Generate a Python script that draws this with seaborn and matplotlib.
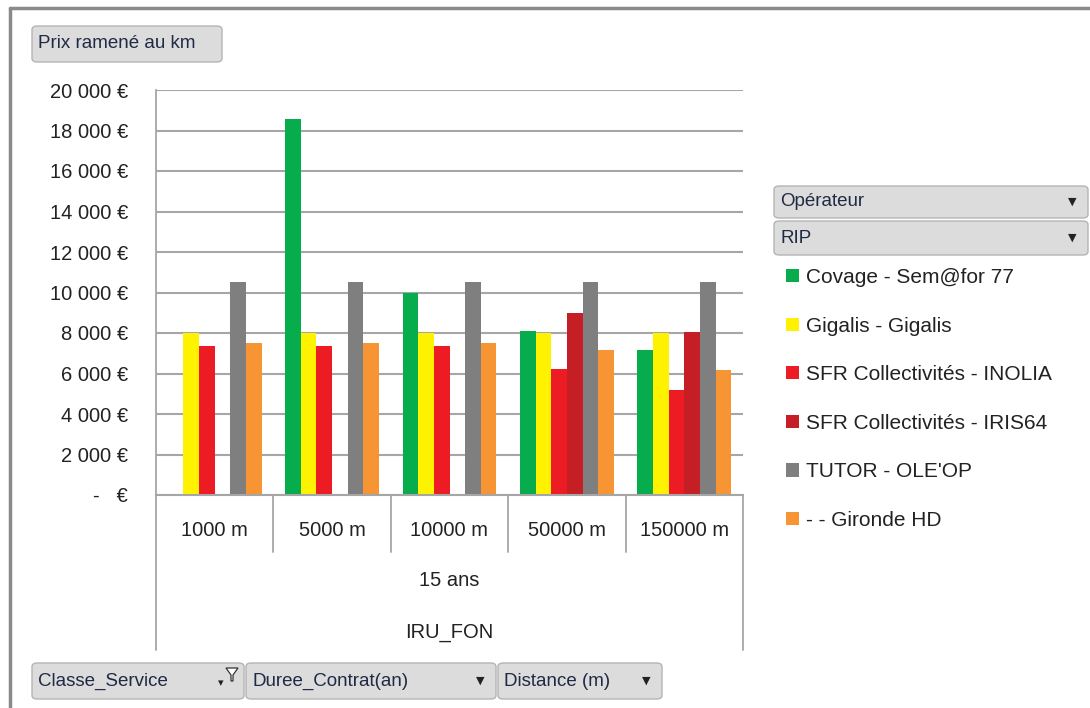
import pandas as pd
import numpy as np
import matplotlib
matplotlib.use('Agg')
import matplotlib.pyplot as plt
import seaborn as sns
from matplotlib.patches import FancyBboxPatch, Polygon
from matplotlib.lines import Line2D
from matplotlib.ticker import FuncFormatter

# données (prix ramené au km, en €)
distances = ['1000 m', '5000 m', '10000 m', '50000 m', '150000 m']
operateurs = ['Covage - Sem@for 77', 'Gigalis - Gigalis', 'SFR Collectivités - INOLIA',
              'SFR Collectivités - IRIS64', "TUTOR - OLE'OP", '- - Gironde HD']
covage = [None, 18570, 9980, 8100, 7160]
gigalis = [8000, 8000, 8000, 8000, 8000]
inolia = [7360, 7360, 7360, 6220, 5170]
iris64 = [None, None, None, 8970, 8030]
tutor = [10500, 10500, 10500, 10500, 10500]
gironde = [7490, 7490, 7490, 7160, 6160]
couleurs = ['#07AC4C', '#FFF200', '#ED1C24', '#C51F25', '#7F7F7F', '#F79433']

rows = []
for op, vals in zip(operateurs, [covage, gigalis, inolia, iris64, tutor, gironde]):
    for d, v in zip(distances, vals):
        if v is not None:
            rows.append({'Distance': d, 'Operateur': op, 'Prix': v})
df = pd.DataFrame(rows)

sns.set_style('white')
plt.rcParams['font.family'] = ['Liberation Sans', 'DejaVu Sans']

fig = plt.figure(figsize=(10.9, 7.08), dpi=100)
W, H = 1090, 708
ax = fig.add_axes([156 / W, 1 - 495 / H, (743 - 156) / W, (495 - 90) / H])

sns.barplot(data=df, x='Distance', y='Prix', hue='Operateur',
            order=distances, hue_order=operateurs, palette=couleurs,
            width=0.8, linewidth=0, saturation=1, errorbar=None, ax=ax)

handles, labels = ax.get_legend_handles_labels()
ax.get_legend().remove()

ax.set_xlim(-0.5, 4.5)
ax.set_ylim(0, 20000)
ax.set_yticks(np.arange(0, 20001, 2000))
ax.yaxis.set_major_formatter(FuncFormatter(
    lambda v, p: '-   €' if v == 0 else '{:,.0f} €'.format(v).replace(',', ' ')))
ax.grid(axis='y', color='#A6A6A6', linewidth=1.5)
ax.set_axisbelow(True)
for s in ['top', 'right']:
    ax.spines[s].set_visible(False)
ax.spines['left'].set_color('#A6A6A6')
ax.spines['left'].set_linewidth(1.3)
ax.spines['bottom'].set_color('#A6A6A6')
ax.spines['bottom'].set_linewidth(1.5)
ax.tick_params(axis='y', length=8, width=1.2, color='#A6A6A6', direction='out',
               labelsize=14.5, colors='#A6A6A6', labelcolor='#222222', pad=12)
ax.set_xticks([])
ax.set_xlabel('')
ax.set_ylabel('')

# axe des catégories à plusieurs niveaux
tr = ax.get_xaxis_transform()
def fy(py):
    return (495 - py) / 405
for x in [0.5, 1.5, 2.5, 3.5]:
    ax.add_line(Line2D([x, x], [0, fy(552)], transform=tr, color='#A6A6A6',
                       linewidth=1.3, clip_on=False))
for x in [-0.5, 4.5]:
    ax.add_line(Line2D([x, x], [0, fy(650)], transform=tr, color='#A6A6A6',
                       linewidth=1.3, clip_on=False))
for i, d in enumerate(distances):
    ax.text(i, fy(530), d, transform=tr, ha='center', va='center', fontsize=14.5, color='#222222')
ax.text(2, fy(580), '15 ans', transform=tr, ha='center', va='center', fontsize=14.5, color='#222222')
ax.text(2, fy(632), 'IRU_FON', transform=tr, ha='center', va='center', fontsize=14.5, color='#222222')

# légende
fig.legend(handles, labels, loc='upper left', bbox_to_anchor=(786 / W, 1 - 268 / H),
           frameon=False, fontsize=15, handlelength=0.6, handleheight=0.6,
           handletextpad=0.35, labelspacing=1.42, borderpad=0, borderaxespad=0,
           labelcolor='#222222')

# boutons du tableau croisé dynamique
def bouton(x0, y0, x1, y1, texte, fleche=True):
    p = FancyBboxPatch((x0 / W, 1 - y1 / H), (x1 - x0) / W, (y1 - y0) / H,
                       boxstyle='round,pad=0,rounding_size=0.005',
                       transform=fig.transFigure, facecolor='#DCDCDC',
                       edgecolor='#B4B4B4', linewidth=1)
    fig.add_artist(p)
    fig.text((x0 + 6) / W, 1 - (y0 + y1) / 2 / H, texte, ha='left', va='center',
             fontsize=13.5, color='#1F2A44')
    if fleche:
        fig.text((x1 - 16) / W, 1 - (y0 + y1) / 2 / H, '▼', ha='center', va='center',
                 fontsize=8, color='#222222', family='DejaVu Sans')

bouton(32, 26, 222, 62, 'Prix ramené au km', fleche=False)
bouton(774, 186, 1088, 218, 'Opérateur')
bouton(774, 221, 1088, 255, 'RIP')
bouton(32, 663, 244, 699, 'Classe_Service', fleche=False)
bouton(246, 663, 496, 699, 'Duree_Contrat(an)')
bouton(498, 663, 662, 699, 'Distance (m)')
# petit filtre sur Classe_Service
fig.add_artist(Polygon([((226) / W, 1 - 668 / H), (238 / W, 1 - 668 / H), (233 / W, 1 - 675 / H),
                        (233 / W, 1 - 681 / H), (231 / W, 1 - 681 / H), (231 / W, 1 - 675 / H)],
                       closed=True, transform=fig.transFigure, facecolor='white',
                       edgecolor='#333333', linewidth=0.9))
fig.text(221 / W, 1 - 683 / H, '▾', ha='center', va='center', fontsize=8,
         color='#222222', family='DejaVu Sans')

# cadre du graphique
fig.add_artist(Line2D([10 / W, 10 / W], [0, 1 - 8 / H], transform=fig.transFigure,
                      color='#8A8A8A', linewidth=2.5))
fig.add_artist(Line2D([10 / W, 1], [1 - 8 / H, 1 - 8 / H], transform=fig.transFigure,
                      color='#8A8A8A', linewidth=2.5))

fig.savefig('out.png', dpi=100, facecolor='white')
